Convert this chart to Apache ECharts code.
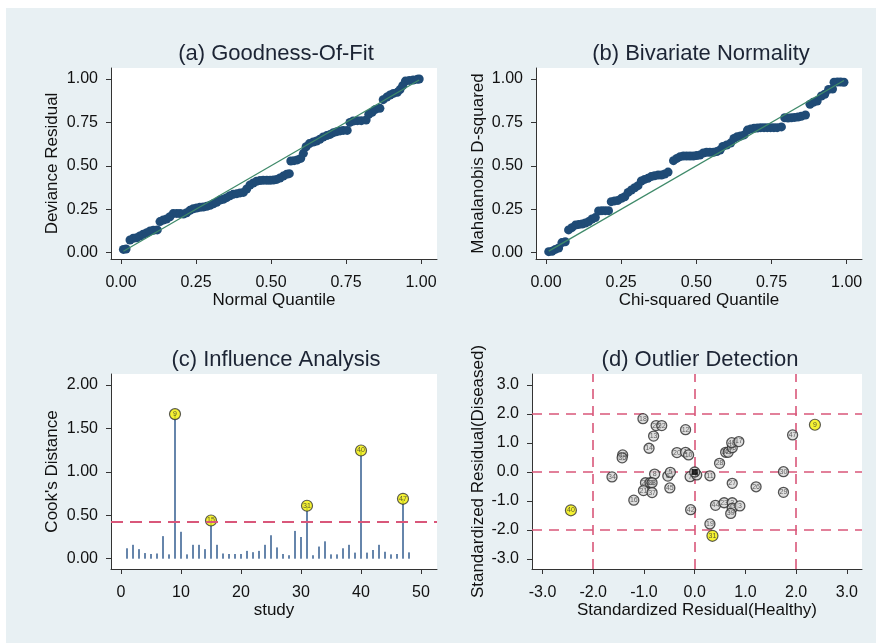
<!DOCTYPE html>
<html><head><meta charset="utf-8">
<script src="https://cdn.jsdelivr.net/npm/echarts@6/dist/echarts.min.js"></script>
<style>
html,body{margin:0;padding:0;background:#fff;}
#bg{position:absolute;left:6px;top:8px;width:870px;height:635px;background:#e8f0f3;}
#c{position:absolute;left:0;top:0;width:876px;height:643px;}
</style>
</head><body><div id="bg"></div><div id="c"></div>
<script>
// ---------- (a) Goodness-of-fit ----------
const aX = [0.008,0.017,0.030,0.041,0.052,0.063,0.074,0.086,0.097,0.108,0.121,0.130,0.141,0.152,0.163,0.174,0.186,0.197,0.208,0.219,0.230,0.241,0.252,0.263,0.274,0.286,0.297,0.308,0.319,0.330,0.341,0.352,0.363,0.374,0.386,0.397,0.408,0.419,0.430,0.441,0.452,0.463,0.474,0.486,0.497,0.508,0.519,0.530,0.541,0.552,0.561,0.566,0.577,0.588,0.599,0.608,0.617,0.628,0.641,0.652,0.663,0.674,0.686,0.697,0.708,0.719,0.730,0.741,0.754,0.763,0.774,0.788,0.801,0.817,0.826,0.837,0.848,0.863,0.874,0.886,0.897,0.908,0.921,0.930,0.939,0.948,0.961,0.974,0.988,0.994];
const aY = [0.019,0.021,0.073,0.083,0.086,0.096,0.106,0.115,0.125,0.129,0.131,0.179,0.188,0.194,0.207,0.225,0.226,0.225,0.223,0.230,0.244,0.253,0.257,0.261,0.263,0.267,0.273,0.282,0.290,0.303,0.307,0.317,0.328,0.336,0.340,0.344,0.347,0.367,0.390,0.401,0.411,0.415,0.417,0.417,0.417,0.418,0.422,0.430,0.441,0.451,0.455,0.528,0.530,0.534,0.543,0.572,0.610,0.628,0.637,0.643,0.653,0.666,0.674,0.681,0.691,0.697,0.701,0.704,0.704,0.750,0.758,0.760,0.760,0.764,0.797,0.808,0.825,0.831,0.881,0.896,0.908,0.917,0.923,0.939,0.962,0.988,0.992,0.994,0.998,1.000];
// ---------- (b) Bivariate normality ----------
const bX = [0.009,0.020,0.031,0.042,0.053,0.064,0.075,0.086,0.098,0.109,0.120,0.131,0.142,0.153,0.164,0.175,0.186,0.197,0.208,0.217,0.228,0.239,0.251,0.262,0.273,0.284,0.295,0.306,0.317,0.328,0.339,0.350,0.361,0.373,0.384,0.395,0.406,0.424,0.435,0.446,0.457,0.468,0.479,0.490,0.501,0.512,0.523,0.534,0.545,0.557,0.568,0.579,0.588,0.601,0.614,0.625,0.636,0.647,0.659,0.670,0.681,0.692,0.703,0.714,0.725,0.736,0.747,0.758,0.769,0.783,0.794,0.805,0.816,0.827,0.838,0.849,0.863,0.878,0.889,0.902,0.916,0.927,0.940,0.953,0.958,0.969,0.980,0.991];
const bY = [0.006,0.008,0.019,0.027,0.058,0.063,0.131,0.144,0.159,0.163,0.165,0.171,0.179,0.194,0.202,0.240,0.242,0.242,0.242,0.294,0.298,0.301,0.313,0.322,0.347,0.361,0.374,0.386,0.413,0.422,0.428,0.438,0.443,0.447,0.447,0.453,0.464,0.530,0.543,0.553,0.557,0.557,0.557,0.557,0.559,0.562,0.574,0.578,0.578,0.578,0.582,0.591,0.612,0.620,0.631,0.658,0.668,0.672,0.678,0.706,0.712,0.716,0.718,0.720,0.720,0.720,0.720,0.720,0.720,0.724,0.777,0.775,0.777,0.779,0.781,0.785,0.793,0.854,0.866,0.873,0.902,0.912,0.940,0.942,0.981,0.983,0.983,0.981];
// ---------- (c) Influence analysis ----------
const studies = [1,2,3,4,5,6,7,8,9,10,11,12,13,14,15,16,17,18,19,20,21,22,23,24,25,26,27,28,29,30,31,32,33,34,35,36,37,38,39,40,41,42,43,44,45,46,47,48];
const cooksD = [0.12,0.16,0.11,0.065,0.054,0.06,0.26,0.05,1.665,0.31,0.05,0.16,0.16,0.11,0.44,0.16,0.06,0.054,0.054,0.054,0.09,0.075,0.09,0.16,0.27,0.13,0.054,0.04,0.32,0.25,0.61,0.04,0.14,0.2,0.05,0.05,0.12,0.16,0.07,1.246,0.07,0.1,0.16,0.08,0.05,0.054,0.69,0.073];
const cooksCut = 0.42;
const influential = [9,15,31,40,47];
// ---------- (d) Outlier detection ----------
const dX = [-1.02,-0.76,-0.65,-0.81,-0.90,-0.18,-0.35,-0.18,-0.12,-1.42,-1.43,-1.63,-0.79,-0.53,-0.48,-0.97,-0.88,-0.84,-1.01,-0.84,-0.49,-1.20,-0.09,0.04,0.30,0.49,0.61,0.66,0.74,0.73,0.87,1.93,1.75,1.75,1.21,0.74,0.41,0.58,0.74,0.74,0.89,0.71,-0.08,0.30,0.00];
const dY = [1.84,1.60,1.60,1.24,0.82,1.46,0.67,0.68,0.59,0.59,0.49,-0.17,-0.07,-0.14,-0.01,-0.37,-0.37,-0.37,-0.64,-0.71,-0.55,-0.97,-0.16,-0.10,-0.13,0.30,0.68,0.68,0.84,1.01,1.05,1.28,0.01,-0.70,-0.51,-0.39,-1.15,-1.06,-1.06,-1.25,-1.17,-1.43,-1.30,-1.79,0.00];
const dLab = ["18","25","22","13","14","12","20","1","10","35","36","34","8","6","5","24","33","38","21","37","45","16","7","4","11","28","32","41","46","48","17","47","30","29","26","27","44","23","2","43","3","39","42","19","15"];
const outX = [2.37,0.35,-2.44];
const outY = [1.63,-2.20,-1.32];
const outLab = ["9","31","40"];
const refLines = [-2,0,2];
// ---------- tick labels ----------
const qTicks = [0,0.25,0.5,0.75,1];
const studyTicks = [0,10,20,30,40,50];
const cookTicks = [0,0.5,1,1.5,2];
const residTicks = [-3,-2,-1,0,1,2,3];

const FONT = 'Liberation Sans, Arial, sans-serif';
const TXT = '#111';
const chart = echarts.init(document.getElementById('c'), null, {renderer:'canvas'});

function ax(gi, min, max, ticks, dec, name, gap, isY) {
  return {
    type:'value', gridIndex:gi, min:min, max:max,
    name:name, nameLocation:'middle', nameGap:gap,
    nameTextStyle:{fontSize:17, color:TXT, fontFamily:FONT},
    axisLine:{show:true, onZero:false, lineStyle:{color:'#333', width:1}},
    axisTick:{show:true, inside:false, length:5, customValues:ticks, lineStyle:{color:'#333', width:1}},
    axisLabel:{show:true, customValues:ticks, margin: isY ? 13 : 16, fontSize:16, color:TXT, fontFamily:FONT,
      formatter: v => Number(v).toFixed(dec)},
    splitLine:{show:false}
  };
}
const titleStyle = {fontSize:22, fontWeight:'normal', color:'#1c2434', fontFamily:FONT};
const grids = [
  {left:111, top:68, width:326, height:191},
  {left:536, top:68, width:326, height:191},
  {left:111, top:374, width:326, height:195},
  {left:532, top:374, width:330, height:195}
].map(g => Object.assign({show:true, backgroundColor:'#fff', borderWidth:0, containLabel:false, outerBoundsMode:'none'}, g));

const navy = '#1f4b76';
const green = '#3f8a6a';
const red = '#d9577a';

const option = {
  animation:false,
  textStyle:{fontFamily:FONT},
  title:[
    {text:'(a) Goodness-Of-Fit', left:271, top:38, textAlign:'center', textStyle:titleStyle},
    {text:'(b) Bivariate Normality', left:696, top:38, textAlign:'center', textStyle:titleStyle},
    {text:'(c) Influence Analysis', left:271, top:344, textAlign:'center', textStyle:titleStyle},
    {text:'(d) Outlier Detection', left:695, top:344, textAlign:'center', textStyle:titleStyle}
  ],
  grid: grids,
  xAxis:[
    ax(0, -0.0333, 1.0533, qTicks, 2, 'Normal Quantile', 31, false),
    ax(1, -0.0333, 1.051, qTicks, 2, 'Chi-squared Quantile', 31, false),
    ax(2, -1.667, 52.667, studyTicks, 0, 'study', 30, false),
    ax(3, -3.207, 3.298, residTicks, 1, 'Standardized Residual(Healthy)', 29, false)
  ],
  yAxis:[
    ax(0, -0.0363, 1.0633, qTicks, 2, 'Deviance Residual', 50, true),
    ax(1, -0.0363, 1.0633, qTicks, 2, 'Mahalanobis D-squared', 49, true),
    ax(2, -0.1186, 2.127, cookTicks, 2, "Cook's Distance", 50, true),
    ax(3, -3.345, 3.38, residTicks, 1, 'Standardized Residual(Diseased)', 45, true)
  ],
  series:[
    {type:'scatter', xAxisIndex:0, yAxisIndex:0, data:aX.map((x,i)=>[x,aY[i]]), symbolSize:9,
     itemStyle:{color:navy, opacity:1}, z:2},
    {type:'line', xAxisIndex:0, yAxisIndex:0, data:[[aX[0],aX[0]],[aX[aX.length-1],aX[aX.length-1]]],
     showSymbol:false, symbol:'none', lineStyle:{color:green, width:1.3}, z:3},
    {type:'scatter', xAxisIndex:1, yAxisIndex:1, data:bX.map((x,i)=>[x,bY[i]]), symbolSize:9,
     itemStyle:{color:navy, opacity:1}, z:2},
    {type:'line', xAxisIndex:1, yAxisIndex:1, data:[[bX[0],bX[0]],[bX[bX.length-1],bX[bX.length-1]]],
     showSymbol:false, symbol:'none', lineStyle:{color:green, width:1.3}, z:3},
    {type:'bar', xAxisIndex:2, yAxisIndex:2, data:studies.map((s,i)=>[s,cooksD[i]]), barWidth:2,
     itemStyle:{color:'#6685ab'}, z:2,
     markLine:{silent:true, symbol:'none', label:{show:false},
       lineStyle:{color:red, width:2, type:[12,7]}, data:[{yAxis:cooksCut}]}},
    {type:'scatter', xAxisIndex:2, yAxisIndex:2, data:influential.map(s=>[s,cooksD[s-1],String(s)]), symbolSize:11,
     itemStyle:{color:'#f2ef00', borderColor:'#333', borderWidth:1.2}, z:4,
     label:{show:true, position:'inside', formatter:p=>p.data[2], fontSize:7, color:'#333'}},
    {type:'scatter', xAxisIndex:3, yAxisIndex:3, data:dX.map((x,i)=>[x,dY[i],dLab[i]]), symbolSize:10,
     itemStyle:{color:'#d6d6d6', borderColor:'#2a2a2a', borderWidth:1.3}, z:3,
     label:{show:true, position:'inside', formatter:p=>p.data[2], fontSize:7, color:'#444'},
     markLine:{silent:true, symbol:'none', label:{show:false}, z:1,
       lineStyle:{color:red, width:1.6, type:[10,7]},
       data: refLines.map(v=>({xAxis:v})).concat(refLines.map(v=>({yAxis:v})))}},
    {type:'scatter', xAxisIndex:3, yAxisIndex:3, data:[[dX[dX.length-1],dY[dY.length-1]]], symbol:'rect', symbolSize:6,
     itemStyle:{color:'#000'}, z:5},
    {type:'scatter', xAxisIndex:3, yAxisIndex:3, data:outX.map((x,i)=>[x,outY[i],outLab[i]]), symbolSize:11,
     itemStyle:{color:'#f2ef00', borderColor:'#333', borderWidth:1.2}, z:4,
     label:{show:true, position:'inside', formatter:p=>p.data[2], fontSize:7, color:'#333'}}
  ]
};
chart.setOption(option);
</script></body></html>
